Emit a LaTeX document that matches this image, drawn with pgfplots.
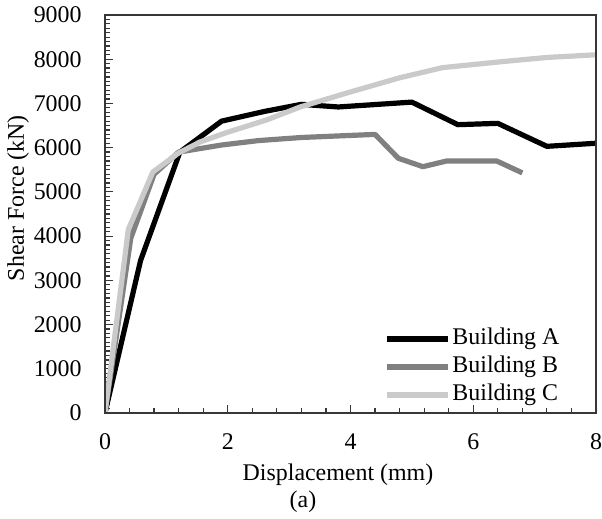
\documentclass[border=0pt]{standalone}
\usepackage{pgfplots}
\pgfplotsset{compat=1.18}
\usepackage{fontspec}
\setmainfont{Liberation Serif}
\definecolor{cA}{RGB}{0,0,0}
\definecolor{cB}{RGB}{128,128,128}
\definecolor{cC}{RGB}{202,202,202}
\definecolor{axc}{RGB}{55,55,55}
\newcommand{\ff}{\fontsize{12}{14}\selectfont}
\begin{document}
\ff
\begin{tikzpicture}
\path[use as bounding box] (-52.5bp,-53bp) rectangle (248.5bp,206.5bp);
\begin{axis}[
  at={(0,0)}, anchor=south west,
  scale only axis, width=245.5bp, height=199bp,
  xmin=0, xmax=8, ymin=0, ymax=9000,
  xtick={0,2,4,6,8}, ytick={0,1000,...,9000},
  minor x tick num=4, minor y tick num=9,
  tick align=inside, xtick pos=bottom, ytick pos=left,
  major tick length=4bp, minor tick length=2.5bp,
  every tick/.style={axc, line width=0.6bp},
  axis line style={axc, line width=1.1bp},
  tick label style={font=\ff},
  every y tick label/.append style={anchor=east, inner sep=0pt, xshift=-11.5bp},
  every x tick label/.append style={anchor=north, inner sep=0pt, yshift=-10bp},
  xlabel={Displacement (mm)}, ylabel={Shear Force (kN)},
  label style={font=\ff},
  xlabel style={at={(axis description cs:0.4745,-0.156)}, anchor=center},
  ylabel style={at={(axis description cs:-0.177,0.54)}, anchor=center},
  legend style={draw=none, fill=none, inner sep=0pt, at={(axis description cs:0.568,0.1156)}, anchor=west,
    font=\ff, row sep=1.5bp, column sep=0bp,
    nodes={inner sep=1bp, text height=8bp, text depth=2.5bp}},
  legend cell align=left,
  legend image code/.code={\draw[#1] (0bp,0bp) -- (30.5bp,0bp);},
  every axis plot/.append style={line width=2.6bp, line join=round, no marks},
  /pgf/number format/assume math mode=true,
  /pgf/number format/1000 sep={},
]
\addplot[cA] coordinates {(0,0) (0.58,3450) (1.22,5900) (1.9,6600) (2.6,6820) (3.2,6980) (3.8,6920) (5.0,7030) (5.75,6520) (6.4,6550) (7.2,6030) (8,6100)};
\addlegendentry{Building A}
\addplot[cB] coordinates {(0,0) (0.42,3950) (0.8,5400) (1.2,5900) (1.9,6060) (2.5,6160) (3.2,6230) (4.4,6300) (4.78,5760) (5.18,5570) (5.57,5700) (6.38,5700) (6.8,5430)};
\addlegendentry{Building B}
\addplot[cC] coordinates {(0,0) (0.38,4150) (0.78,5450) (1.2,5880) (1.55,6130) (2.0,6350) (2.64,6630) (3.18,6920) (4.0,7260) (4.8,7580) (5.5,7810) (6.43,7940) (7.2,8040) (8,8100)};
\addlegendentry{Building C}
\end{axis}
\draw[axc, line width=1.1bp] (0bp,0bp) rectangle (245.5bp,199bp);
\node[anchor=center, font=\ff] at (99bp,-44.5bp) {(a)};
\end{tikzpicture}
\end{document}
